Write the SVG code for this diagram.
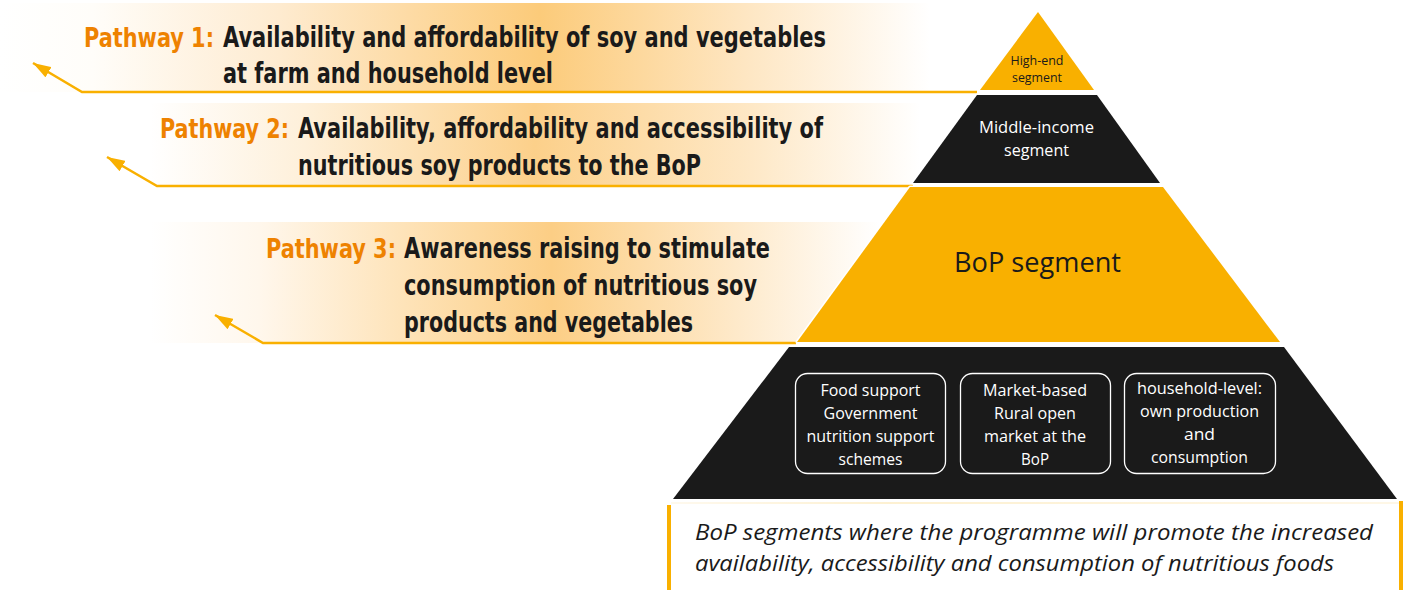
<svg xmlns="http://www.w3.org/2000/svg" width="1411" height="590" viewBox="0 0 1411 590">
  <defs>
    <style>
      .band-title { font-family: "Liberation Sans Narrow", "DejaVu Sans Condensed", "Roboto Condensed", sans-serif; font-weight: bold; font-size: 27.5px; }
      .lead { fill: #EE8200; font-size: 26px; }
      .body { fill: #1A1A1A; }
      .seg { font-family: "Open Sans", "Noto Sans", sans-serif; text-anchor: middle; }
      .box { fill: none; stroke: #FFFFFF; stroke-width: 1.3; }
      .box-text { font-family: "Open Sans", "Noto Sans", sans-serif; font-size: 15.5px; fill: #FFFFFF; text-anchor: middle; }
      .caption { font-family: "Open Sans", "Noto Sans", sans-serif; font-style: italic; font-size: 22.5px; fill: #1A1A1A; }
      .layer { stroke: #FFFFFF; stroke-width: 3; paint-order: stroke fill; stroke-linejoin: round; }
      .gold { fill: #F9B000; }
      .dark { fill: #1A1A1A; }
      .connector { fill: none; stroke: #F9B000; stroke-width: 2.5; marker-end: url(#arrowhead); }
    </style>
    <linearGradient id="band1Fill" gradientUnits="userSpaceOnUse" x1="0" y1="0" x2="930" y2="0">
      <stop offset="0" stop-color="#FFFFFF"/>
      <stop offset="0.1" stop-color="#FFFDF9"/>
      <stop offset="0.3" stop-color="#FEEBD0"/>
      <stop offset="0.58" stop-color="#FCCB7A"/>
      <stop offset="0.8" stop-color="#FEE6C2"/>
      <stop offset="1" stop-color="#FFFFFF"/>
    </linearGradient>
    <linearGradient id="band2Fill" gradientUnits="userSpaceOnUse" x1="150" y1="0" x2="920" y2="0">
      <stop offset="0" stop-color="#FFFFFF"/>
      <stop offset="0.2" stop-color="#FEF0DA"/>
      <stop offset="0.5" stop-color="#FCD08A"/>
      <stop offset="0.78" stop-color="#FEE8C6"/>
      <stop offset="1" stop-color="#FFFFFF"/>
    </linearGradient>
    <linearGradient id="band3Fill" gradientUnits="userSpaceOnUse" x1="150" y1="0" x2="880" y2="0">
      <stop offset="0" stop-color="#FFFFFF"/>
      <stop offset="0.15" stop-color="#FFF7EC"/>
      <stop offset="0.35" stop-color="#FEE3B8"/>
      <stop offset="0.55" stop-color="#FCCE85"/>
      <stop offset="0.8" stop-color="#FEE9C9"/>
      <stop offset="1" stop-color="#FFFFFF"/>
    </linearGradient>
    <linearGradient id="captionEdge" gradientUnits="userSpaceOnUse" x1="671" y1="0" x2="1399" y2="0">
      <stop offset="0" stop-color="#FDF3DC"/>
      <stop offset="0.3" stop-color="#FBE2A4"/>
      <stop offset="1" stop-color="#FDEFCF"/>
    </linearGradient>
    <marker id="arrowhead" viewBox="0 0 18 12" refX="18" refY="6" markerWidth="18" markerHeight="12" markerUnits="userSpaceOnUse" orient="auto">
      <path d="M0,0 L18,6 L0,12 z" fill="#F9B000"/>
    </marker>
  </defs>

  <!-- shaded bands behind the three pathway statements -->
  <g id="pathway-bands">
    <rect x="0" y="3" width="930" height="89" fill="url(#band1Fill)"/>
    <rect x="150" y="103" width="770" height="83" fill="url(#band2Fill)"/>
    <rect x="150" y="222" width="730" height="121" fill="url(#band3Fill)"/>
  </g>

  <!-- underlines that turn into arrows pointing up-left -->
  <g id="connectors">
    <path class="connector" d="M977,92 H82 L33,63"/>
    <path class="connector" d="M913,186 H157 L107,157"/>
    <path class="connector" d="M796,343 H263 L215,315"/>
  </g>

  <g id="pathway-1" class="band-title">
    <text x="84" y="47" class="lead" textLength="130" lengthAdjust="spacingAndGlyphs">Pathway 1:</text>
    <text x="223" y="47" class="body" textLength="603" lengthAdjust="spacingAndGlyphs">Availability and affordability of soy and vegetables</text>
    <text x="223" y="83" class="body" textLength="330" lengthAdjust="spacingAndGlyphs">at farm and household level</text>
  </g>

  <g id="pathway-2" class="band-title">
    <text x="160" y="138" class="lead" textLength="129" lengthAdjust="spacingAndGlyphs">Pathway 2:</text>
    <text x="298" y="138" class="body" textLength="525" lengthAdjust="spacingAndGlyphs">Availability, affordability and accessibility of</text>
    <text x="298" y="175" class="body" textLength="403" lengthAdjust="spacingAndGlyphs">nutritious soy products to the BoP</text>
  </g>

  <g id="pathway-3" class="band-title">
    <text x="266" y="258" class="lead" textLength="130" lengthAdjust="spacingAndGlyphs">Pathway 3:</text>
    <text x="404" y="258" class="body" textLength="366" lengthAdjust="spacingAndGlyphs">Awareness raising to stimulate</text>
    <text x="404" y="295" class="body" textLength="353" lengthAdjust="spacingAndGlyphs">consumption of nutritious soy</text>
    <text x="404" y="332" class="body" textLength="289" lengthAdjust="spacingAndGlyphs">products and vegetables</text>
  </g>

  <!-- income pyramid, top to bottom -->
  <g id="high-end-segment">
    <polygon class="layer gold" points="1038,12 1094,90 980,90"/>
    <text class="seg" x="1037" y="65" font-size="12" fill="#1A1A1A" textLength="53" lengthAdjust="spacingAndGlyphs">High-end</text>
    <text class="seg" x="1037" y="82" font-size="12" fill="#1A1A1A" textLength="50" lengthAdjust="spacingAndGlyphs">segment</text>
  </g>

  <g id="middle-income-segment">
    <polygon class="layer dark" points="977,95 1097,95 1160,183 913,183"/>
    <text class="seg" x="1036.5" y="133" font-size="16.5" fill="#FFFFFF" textLength="115" lengthAdjust="spacingAndGlyphs">Middle-income</text>
    <text class="seg" x="1036.5" y="156" font-size="16.5" fill="#FFFFFF" textLength="65" lengthAdjust="spacingAndGlyphs">segment</text>
  </g>

  <g id="bop-segment">
    <polygon class="layer gold" points="910,187 1163,187 1280,342 797,342"/>
    <text class="seg" x="1037.5" y="272" font-size="27" fill="#1A1A1A" textLength="167" lengthAdjust="spacingAndGlyphs">BoP segment</text>
  </g>

  <g id="bop-channels">
    <polygon class="layer dark" points="789,347 1284,347 1397,499 673,499"/>
  </g>

  <g id="food-support">
    <rect class="box" x="795.5" y="373.5" width="150" height="100" rx="12"/>
    <text class="box-text" x="870.5" y="396" textLength="100" lengthAdjust="spacingAndGlyphs">Food support</text>
    <text class="box-text" x="870.5" y="419" textLength="94" lengthAdjust="spacingAndGlyphs">Government</text>
    <text class="box-text" x="870.5" y="442" textLength="128" lengthAdjust="spacingAndGlyphs">nutrition support</text>
    <text class="box-text" x="870.5" y="465" textLength="64" lengthAdjust="spacingAndGlyphs">schemes</text>
  </g>

  <g id="market-based">
    <rect class="box" x="960.5" y="373.5" width="150" height="100" rx="12"/>
    <text class="box-text" x="1035" y="396" textLength="104" lengthAdjust="spacingAndGlyphs">Market-based</text>
    <text class="box-text" x="1035" y="419" textLength="82" lengthAdjust="spacingAndGlyphs">Rural open</text>
    <text class="box-text" x="1035" y="442" textLength="102" lengthAdjust="spacingAndGlyphs">market at the</text>
    <text class="box-text" x="1035" y="465" textLength="28" lengthAdjust="spacingAndGlyphs">BoP</text>
  </g>

  <g id="household-level">
    <rect class="box" x="1124.5" y="373.5" width="151" height="100" rx="12"/>
    <text class="box-text" x="1199.5" y="394" textLength="125" lengthAdjust="spacingAndGlyphs">household-level:</text>
    <text class="box-text" x="1199.5" y="417" textLength="119" lengthAdjust="spacingAndGlyphs">own production</text>
    <text class="box-text" x="1199.5" y="440" textLength="31" lengthAdjust="spacingAndGlyphs">and</text>
    <text class="box-text" x="1199.5" y="463" textLength="97" lengthAdjust="spacingAndGlyphs">consumption</text>
  </g>

  <!-- explanatory note under the pyramid -->
  <g id="caption">
    <line x1="671" y1="503" x2="1399" y2="503" stroke="url(#captionEdge)" stroke-width="1.2"/>
    <rect x="667" y="505" width="4" height="85" fill="#F9B000"/>
    <rect x="1399" y="501" width="4" height="89" fill="#F9B000"/>
    <text class="caption" x="695" y="540" textLength="678" lengthAdjust="spacingAndGlyphs">BoP segments where the programme will promote the increased</text>
    <text class="caption" x="695" y="571" textLength="639" lengthAdjust="spacingAndGlyphs">availability, accessibility and consumption of nutritious foods</text>
  </g>
</svg>
